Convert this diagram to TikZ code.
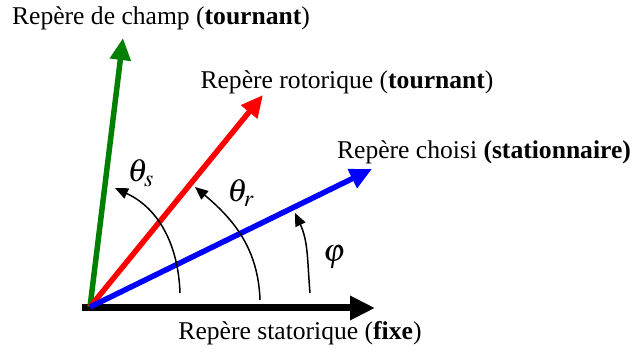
\documentclass[tikz,border=0pt]{standalone}
\usepackage{mathptmx}
\usepackage{fontspec}
\setmainfont{Liberation Serif}
\usetikzlibrary{positioning, arrows.meta}

\tikzset{
    frame/.style={line width=2.75pt, -{Triangle[length=11pt, width=10pt]}},
    angarc/.style={line width=0.75pt, -{Triangle[length=6.5pt, width=5.5pt]}},
    framelabel/.style={font=\fontsize{12.8}{15}\selectfont, inner sep=0pt},
    anglabel/.style={font=\fontsize{16}{18}\selectfont, inner sep=0pt}
}

\begin{document}
\begin{tikzpicture}[x=0.5pt, y=0.5pt]
    \useasboundingbox (0,0) rectangle (635,352);

    % Origin and frame tips
    \coordinate (O) at (90,45);
    \coordinate (start) at (82,44);
    \coordinate (tipStat) at (375,44);
    \coordinate (tipChoisi) at (372,183);
    \coordinate (tipRot) at (263,257);
    \coordinate (tipChamp) at (123,314);

    % Frames
    \draw[line width=3.5pt, -{Triangle[length=12.5pt, width=11.5pt]}] (start) -- (tipStat);
    \draw[frame, green!50!black] (O) -- (tipChamp);
    \draw[frame, red] (O) -- (tipRot);
    \draw[frame, blue] (O) -- (tipChoisi);

    % Angles
    \coordinate (phiA) at (310,59);  \coordinate (phiB) at (295,139);
    \coordinate (thrA) at (260,52);  \coordinate (thrB) at (195,165);
    \coordinate (thsA) at (180,59);  \coordinate (thsB) at (115,164);
    \draw[angarc] (phiA) to[out=95, in=-65] (phiB);
    \draw[angarc] (thrA) to[out=92, in=-40] (thrB);
    \draw[angarc] (thsA) to[out=92, in=-25] (thsB);

    \node[anglabel] (phi) at (334,95) {$\varphi$};
    \node[anglabel] (thr) at (241,159) {$\theta_r$};
    \node[anglabel] (ths) at (141,179) {$\theta_s$};

    % Labels
    \node[framelabel] (lChamp) at (161,334) {Repère de champ (\textbf{tournant})};
    \node[framelabel] (lRot) at (347,270) {Repère rotorique (\textbf{tournant})};
    \node[framelabel] (lChoisi) at (484,200) {Repère choisi \textbf{(stationnaire)}};
    \node[framelabel] (lStat) at (300,19) {Repère statorique (\textbf{fixe})};
\end{tikzpicture}
\end{document}
